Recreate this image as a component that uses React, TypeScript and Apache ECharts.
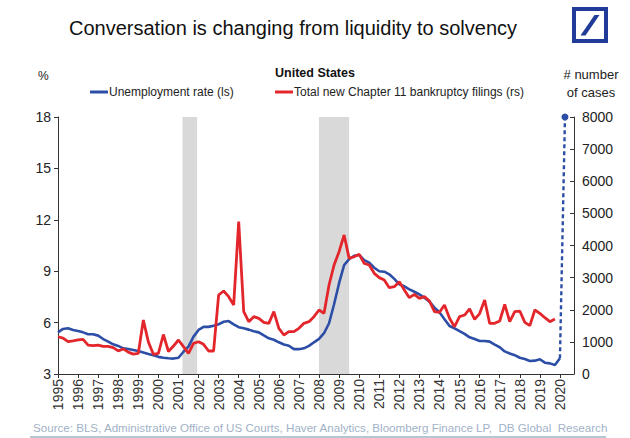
import React, { useEffect, useRef } from "react";
import * as echarts from "echarts";

// Quarterly data starting 1995 Q1
const START_YEAR = 1995;
const STEP = 0.25;

// US unemployment rate, % (left axis)
const unemployment = [
  5.43, 5.63, 5.67, 5.57,
  5.51, 5.43, 5.32, 5.32,
  5.24, 5.04, 4.89, 4.73,
  4.64, 4.5, 4.46, 4.4,
  4.34, 4.26, 4.17, 4.09,
  4.0, 3.95, 3.92, 3.9,
  3.95, 4.3, 4.6, 5.18,
  5.57, 5.75, 5.75, 5.82,
  5.9, 6.05, 6.09, 5.9,
  5.73, 5.67, 5.59, 5.49,
  5.43, 5.25, 5.08, 5.0,
  4.85, 4.72, 4.65, 4.45,
  4.45, 4.5, 4.64, 4.85,
  5.05, 5.38, 5.96, 7.07,
  8.3, 9.36, 9.7, 9.9,
  9.95, 9.65, 9.5, 9.2,
  9.0, 8.97, 8.82, 8.55,
  8.23, 8.12, 7.94, 7.8,
  7.65, 7.45, 7.22, 6.87,
  6.6, 6.2, 5.8, 5.67,
  5.5, 5.34, 5.14, 5.04,
  4.93, 4.93, 4.89, 4.71,
  4.56, 4.32, 4.2, 4.1,
  3.95, 3.88, 3.76, 3.78,
  3.86, 3.66, 3.62, 3.53,
  3.92,
];

// Total new Chapter 11 bankruptcy filings, # cases (right axis)
const filings = [
  1160, 1120, 1010, 1030,
  1060, 1080, 900, 880,
  900, 860, 860, 820,
  720, 780, 680, 620,
  640, 1680, 1000, 612,
  640, 1230, 700, 870,
  1058, 850, 643, 955,
  1005, 923, 716, 716,
  2459, 2584, 2407, 2148,
  4741, 1940, 1629, 1785,
  1733, 1608, 1577, 1940,
  1422, 1214, 1318, 1318,
  1422, 1577, 1629, 1785,
  1992, 1888, 2770, 3393,
  3808, 4327, 3600, 3650,
  3725, 3445, 3393, 3134,
  3000, 2926, 2687, 2717,
  2873, 2615, 2376, 2480,
  2356, 2407, 2272, 1940,
  1920, 2148, 1733, 1473,
  1785, 1836, 2030, 1700,
  1880, 2303, 1577, 1577,
  1650, 2170, 1629, 1940,
  1960, 1608, 1504, 1992,
  1888, 1753, 1629, 1712,
];

// Projected unemployment jump (dashed)
const projectionYears = [2020.0, 2020.25];
const projectionValues = [3.92, 18];

// Recession periods (shaded)
const recessionStarts = [2001.2, 2008.0];
const recessionEnds = [2001.93, 2009.5];

const leftTicks = { min: 3, max: 18, interval: 3 };
const rightTicks = { min: 0, max: 8000, interval: 1000 };

const BLUE = "#2d4ea6";
const RED = "#e3262b";
const FONT = "'Liberation Sans', Arial, sans-serif";

export default function App() {
  const ref = useRef<HTMLDivElement>(null);

  useEffect(() => {
    document.body.style.margin = "0";
    if (!ref.current) return;
    const chart = echarts.init(ref.current, undefined, { renderer: "svg" });

    const unemploymentData = unemployment.map((v, i) => [START_YEAR + i * STEP, v]);
    const filingsData = filings.map((v, i) => [START_YEAR + i * STEP, v]);
    const projectionData = projectionYears.map((y, i) =>
      i === projectionYears.length - 1
        ? { value: [y, projectionValues[i]], symbol: "circle", symbolSize: 7 }
        : { value: [y, projectionValues[i]], symbol: "none" }
    );
    const recessionAreas = recessionStarts.map((s, i) => [{ xAxis: s }, { xAxis: recessionEnds[i] }]);

    chart.setOption({
      animation: false,
      textStyle: { fontFamily: FONT },
      grid: { left: 58, right: 56, top: 117, bottom: 64, containLabel: false },
      legend: [
        {
          data: ["Unemployment rate (ls)"],
          left: 90,
          top: 86,
          padding: 0,
          icon: "rect",
          itemWidth: 18,
          itemHeight: 3,
          textStyle: { fontSize: 12, color: "#222", fontFamily: FONT, padding: [0, 0, 0, -4] },
        },
        {
          data: ["Total new Chapter 11 bankruptcy filings (rs)"],
          left: 275,
          top: 86,
          padding: 0,
          icon: "rect",
          itemWidth: 18,
          itemHeight: 3,
          textStyle: { fontSize: 12, color: "#222", fontFamily: FONT, padding: [0, 0, 0, -4] },
        },
      ],
      xAxis: {
        type: "value",
        min: 1995,
        max: 2020.7,
        interval: 1,
        axisLine: { show: true, lineStyle: { color: "#333", width: 1 } },
        axisTick: { show: true, length: 4, lineStyle: { color: "#333" } },
        splitLine: { show: false },
        axisLabel: {
          rotate: 90,
          fontSize: 14,
          color: "#333",
          margin: 5,
          showMaxLabel: false,
          formatter: (v: number) => (Number.isInteger(v) ? String(v) : ""),
        },
      },
      yAxis: [
        {
          type: "value",
          ...leftTicks,
          position: "left",
          axisLine: { show: true, lineStyle: { color: "#333", width: 1 } },
          axisTick: { show: true, length: 4, lineStyle: { color: "#333" } },
          splitLine: { show: false },
          axisLabel: { fontSize: 14, color: "#222", margin: 7 },
        },
        {
          type: "value",
          ...rightTicks,
          position: "right",
          axisLine: { show: true, lineStyle: { color: "#333", width: 1 } },
          axisTick: { show: true, inside: true, length: 4, lineStyle: { color: "#333" } },
          splitLine: { show: false },
          axisLabel: { fontSize: 14, color: "#222", margin: 8, formatter: (v: number) => String(v) },
        },
      ],
      series: [
        {
          name: "Unemployment rate (ls)",
          type: "line",
          yAxisIndex: 0,
          data: unemploymentData,
          showSymbol: false,
          symbol: "none",
          lineStyle: { color: BLUE, width: 2.6 },
          itemStyle: { color: BLUE },
          z: 3,
          markArea: {
            silent: true,
            itemStyle: { color: "#d9d9d9" },
            data: recessionAreas,
          },
        },
        {
          name: "Total new Chapter 11 bankruptcy filings (rs)",
          type: "line",
          yAxisIndex: 1,
          data: filingsData,
          showSymbol: false,
          symbol: "none",
          lineStyle: { color: RED, width: 2.8 },
          itemStyle: { color: RED },
          z: 4,
        },
        {
          name: "Projection",
          type: "line",
          yAxisIndex: 0,
          data: projectionData,
          showSymbol: true,
          lineStyle: { color: BLUE, width: 2.4, type: [4, 3] },
          itemStyle: { color: BLUE },
          z: 5,
        },
      ],
      graphic: [
        {
          type: "text",
          x: 293,
          y: 28,
          style: {
            text: "Conversation is changing from liquidity to solvency",
            fontSize: 20,
            fill: "#111",
            align: "center",
            verticalAlign: "middle",
            fontFamily: FONT,
          },
        },
        {
          type: "rect",
          shape: { x: 574, y: 9, width: 32, height: 32 },
          style: { fill: "#fff", stroke: "#203c98", lineWidth: 4 },
        },
        {
          type: "polygon",
          shape: { points: [[580.5, 35.5], [585.5, 35.5], [599.5, 15], [594.5, 15]] },
          style: { fill: "#203c98" },
        },
        {
          type: "text",
          x: 38,
          y: 70,
          style: { text: "%", fontSize: 12, fill: "#222", fontFamily: FONT },
        },
        {
          type: "text",
          x: 315,
          y: 66,
          style: {
            text: "United States",
            fontSize: 12.5,
            fontWeight: "bold",
            fill: "#111",
            align: "center",
            fontFamily: FONT,
          },
        },
        {
          type: "text",
          x: 591,
          y: 65,
          style: {
            text: "# number\nof cases",
            fontSize: 13,
            lineHeight: 18,
            fill: "#222",
            align: "center",
            fontFamily: FONT,
          },
        },
        {
          type: "text",
          x: 33,
          y: 421,
          style: {
            text: "Source: BLS, Administrative Office of US Courts, Haver Analytics, Bloomberg Finance LP,  DB Global  Research",
            fontSize: 11.6,
            fill: "#9fb2c7",
            fontFamily: FONT,
          },
        },
        {
          type: "line",
          shape: { x1: 30, y1: 437, x2: 606, y2: 437 },
          style: { stroke: "#b8c6d4", lineWidth: 2 },
        },
      ],
    });

    return () => chart.dispose();
  }, []);

  return <div ref={ref} style={{ width: 630, height: 438 }} />;
}
